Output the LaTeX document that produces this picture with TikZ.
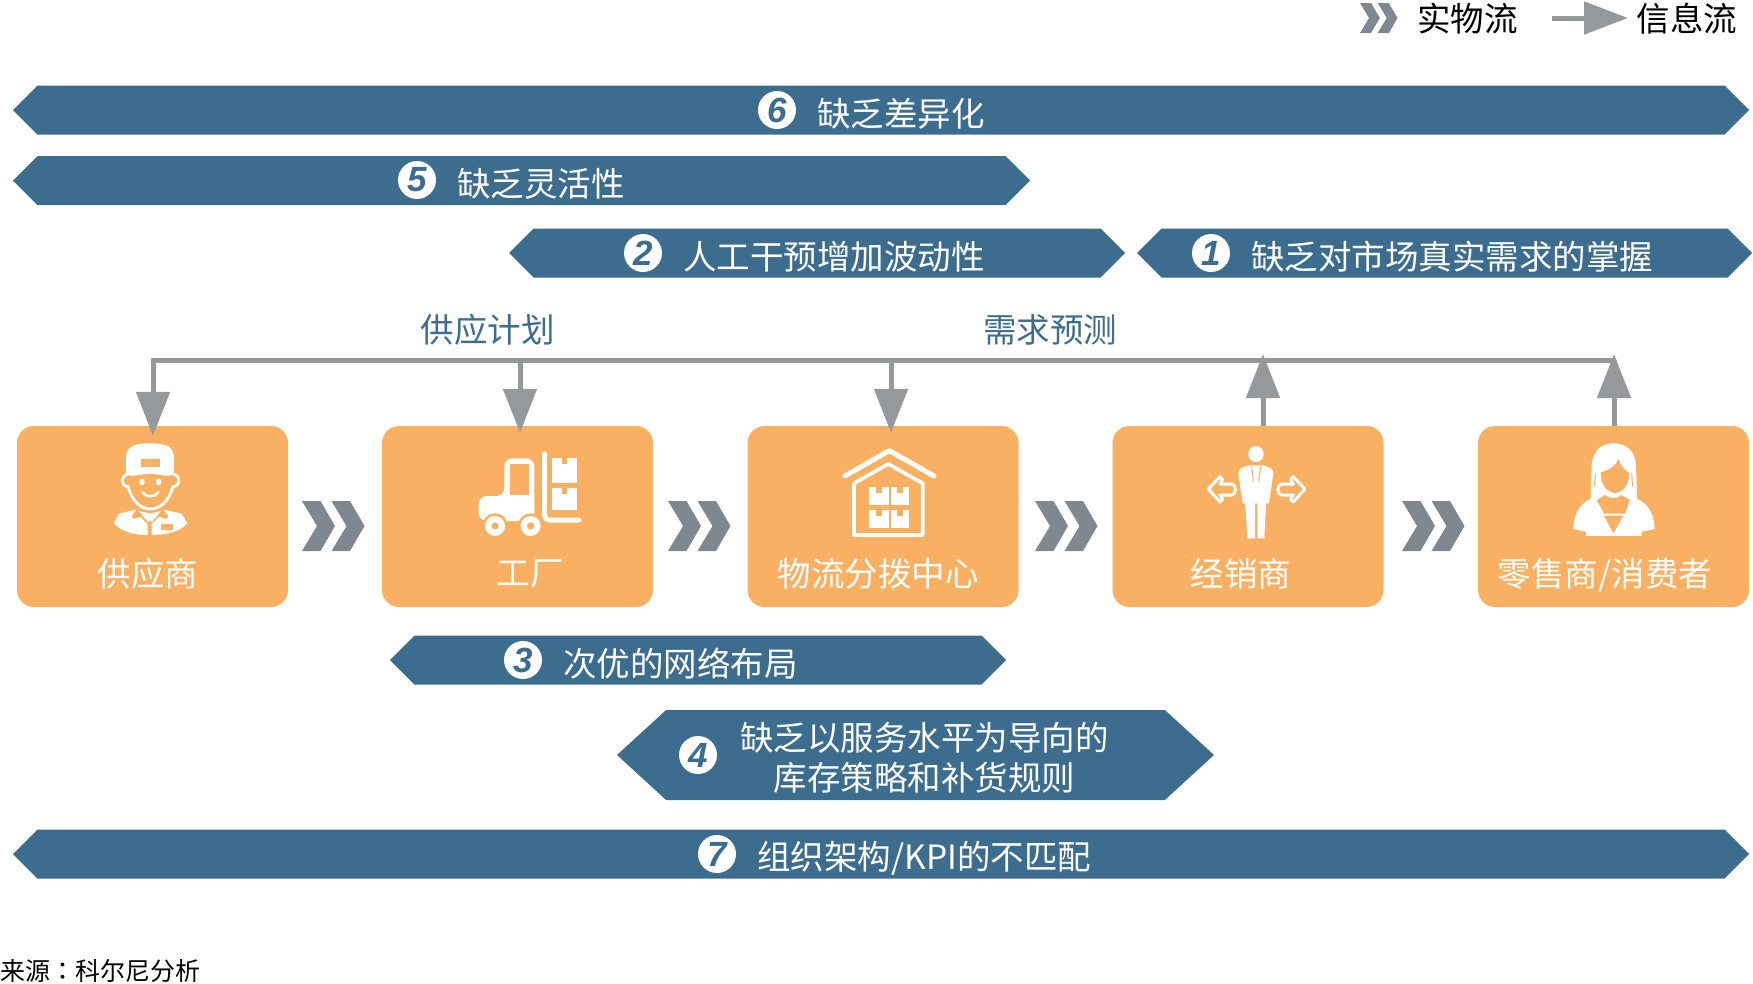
\documentclass[tikz,border=0pt]{standalone}
\usepackage{fontspec}
\setmainfont{Noto Sans CJK SC}
\newfontfamily\numfont{Liberation Sans}
\newfontfamily\colonfont{Noto Sans CJK TC}
\usetikzlibrary{positioning, arrows.meta, shapes.symbols}

\definecolor{bannerblue}{HTML}{3C6C8E}
\definecolor{boxorange}{HTML}{FAB062}
\definecolor{flowgrey}{HTML}{7F8890}
\definecolor{infogrey}{HTML}{96999C}

\tikzset{
    banner/.style={signal, signal to=east and west, signal pointer angle=90, fill=bannerblue, inner sep=0pt, outer sep=0pt},
    bannertext/.style={text=white, font=\fontsize{33.5pt}{40pt}\selectfont, inner sep=0pt, align=center},
    numdot/.style={circle, fill=white, minimum size=38pt, inner sep=0pt, text=bannerblue, font=\fontsize{35pt}{35pt}\numfont\bfseries\itshape},
    stagebox/.style={fill=boxorange, rounded corners=17pt, minimum width=271pt, minimum height=181pt, inner sep=0pt},
    stagetext/.style={text=white, font=\fontsize{33.5pt}{33pt}\selectfont, inner sep=0pt},
    flowtext/.style={text=bannerblue, font=\fontsize{33.5pt}{33pt}\selectfont, inner sep=0pt},
    infoflow/.style={draw=infogrey, line width=5pt, -{Triangle[length=44pt, width=33pt]}},
    icon/.style={fill=white, draw=none},
    iconline/.style={draw=white, line cap=round, line join=round},
    iconcut/.style={fill=boxorange, draw=none},
    chevrons/.pic={
        \fill[flowgrey] (0,0) -- (18.5,0) -- (33,25) -- (18.5,50) -- (0,50) -- (15,25) -- cycle;
        \fill[flowgrey] (29.5,0) -- (48,0) -- (62.5,25) -- (48,50) -- (29.5,50) -- (44.5,25) -- cycle;
    }
}

% carton with a notch, in crop pixels
\newcommand{\carton}[4]{
    \fill[icon] (#1,#2) rectangle (#3,#4);
    \fill[iconcut] ({(#1+#3)/2-8},#2) rectangle ({(#1+#3)/2+8},{#2+18});
}

\begin{document}
\begin{tikzpicture}[x=1pt, y=-1pt]
    \useasboundingbox (0,0) rectangle (1753,983);

    % banners
    \node [banner, minimum width=1736pt, minimum height=49pt] (gap6) at (881,110) {};
    \node [banner, minimum width=1017pt, minimum height=49pt] (gap5) at (521.5,180.5) {};
    \node [banner, minimum width=616pt, minimum height=49pt] (gap2) at (817,253) {};
    \node [banner, minimum width=615pt, minimum height=49pt] (gap1) at (1444.5,253) {};
    \node [banner, minimum width=616pt, minimum height=49pt] (gap3) at (698,660) {};
    \node [banner, signal pointer angle=85, minimum width=597pt, minimum height=90pt] (gap4) at (915.5,755) {};
    \node [banner, minimum width=1736pt, minimum height=49pt] (gap7) at (881,854) {};

    % numbers and texts on the banners
    \node [numdot] (num6) at (777,110) {6};
    \node [bannertext, right=21pt of num6, yshift=-4pt] (text6) {缺乏差异化};
    \node [numdot] (num5) at (417,180) {5};
    \node [bannertext, right=21pt of num5, yshift=-4pt] (text5) {缺乏灵活性};
    \node [numdot] (num2) at (643,253) {2};
    \node [bannertext, right=21pt of num2, yshift=-4pt] (text2) {人工干预增加波动性};
    \node [numdot] (num1) at (1211,253) {1};
    \node [bannertext, right=21pt of num1, yshift=-4pt] (text1) {缺乏对市场真实需求的掌握};
    \node [numdot] (num3) at (523,660) {3};
    \node [bannertext, right=21pt of num3, yshift=-4pt] (text3) {次优的网络布局};
    \node [numdot] (num4) at (698,755) {4};
    \node [bannertext, right=23pt of num4, yshift=-3pt] (text4) {缺乏以服务水平为导向的\\库存策略和补货规则};
    \node [numdot] (num7) at (717,854) {7};
    \node [bannertext, right=21pt of num7, yshift=-4pt] (text7) {组织架构/KPI的不匹配};

    % stages
    \node [stagebox] (supplier) at (152.5,516.5) {};
    \node [stagebox] (factory) at (517.5,516.5) {};
    \node [stagebox] (depot) at (883,516.5) {};
    \node [stagebox] (dealer) at (1248,516.5) {};
    \node [stagebox] (retail) at (1613.5,516.5) {};
    \node [stagetext] (supplierlabel) at (148,574) {供应商};
    \node [stagetext] (factorylabel) at (530,574) {工厂};
    \node [stagetext] (depotlabel) at (878,574) {物流分拨中心};
    \node [stagetext] (dealerlabel) at (1241,574) {经销商};
    \node [stagetext] (retaillabel) at (1605,575) {零售商/消费者};

    % material flow
    \pic at (302,501) {chevrons};
    \pic at (668,501) {chevrons};
    \pic at (1035,501) {chevrons};
    \pic at (1402,501) {chevrons};

    % information flow
    \coordinate (busS) at (153,360);
    \coordinate (busF) at (520,360);
    \coordinate (busD) at (891,360);
    \coordinate (busR) at (1263,360);
    \coordinate (busC) at (1614,360);
    \draw [draw=infogrey, line width=5pt, line cap=round] (busS) -- (busC);
    \draw [infoflow, shorten >=-10pt] (busS) -- (busS |- supplier.north);
    \draw [infoflow, shorten >=-7pt] (busF) -- (busF |- factory.north);
    \draw [infoflow, shorten >=-7pt] (busD) -- (busD |- depot.north);
    \draw [infoflow, shorten >=-6pt] (busR |- dealer.north) -- (busR);
    \draw [infoflow, shorten >=-6pt] (busC |- retail.north) -- (busC);
    \node [flowtext] (planlabel) at (487.5,330) {供应计划};
    \node [flowtext] (forecastlabel) at (1050,330) {需求预测};

    % legend
    \pic [scale=0.6] at (1360,3) {chevrons};
    \node [inner sep=0pt, font=\fontsize{33.5pt}{33pt}\selectfont] (flowkey) at (1467.5,19) {实物流};
    \coordinate (keystart) at (1552,18);
    \coordinate (keyend) at (1628,18);
    \draw [draw=infogrey, line width=5pt, -{Triangle[length=44pt, width=32pt]}] (keystart) -- (keyend);
    \node [inner sep=0pt, font=\fontsize{33.5pt}{33pt}\selectfont] (infokey) at (1687,19) {信息流};

    % source
    \node [inner sep=0pt, anchor=west, font=\fontsize{25pt}{25pt}\selectfont] (source) at (0,971) {来源{\colonfont ：}科尔尼分析};

    % worker
    \begin{scope}[shift={(100,435)}, x=0.3333pt, y=-0.3333pt]
        \fill [icon] (78,118) -- (78,70) .. controls (78,35) and (100,25) .. (150,25) .. controls (200,25) and (222,35) .. (222,70) -- (222,118) .. controls (205,128) and (185,118) .. (150,116) .. controls (115,118) and (95,128) .. (78,118) -- cycle;
        \fill [iconcut] (122,72) rectangle (180,95);
        \draw [iconline, line width=2.8pt] (82,118) .. controls (60,125) and (62,155) .. (85,155) .. controls (95,200) and (125,222) .. (150,222) .. controls (178,222) and (208,200) .. (218,155) .. controls (240,155) and (245,125) .. (222,118);
        \fill [icon] (126,141) ellipse [x radius=8, y radius=10];
        \fill [icon] (176,141) ellipse [x radius=8, y radius=10];
        \draw [iconline, line width=2.6pt] (128,172) .. controls (135,188) and (165,188) .. (175,172);
        \fill [icon] (42,265) -- (56,236) -- (108,224) -- (95,245) -- (100,252) -- (122,246) -- (143,268) -- (143,300) .. controls (100,300) and (65,290) .. (42,265) -- cycle;
        \fill [icon] (155,300) -- (155,268) -- (177,246) -- (200,252) -- (205,245) -- (192,224) -- (245,236) -- (262,265) .. controls (240,290) and (200,300) .. (155,300) -- cycle;
        \fill [iconcut] (182,268) rectangle (220,285);
        \fill [icon] (118,228) -- (150,236) -- (182,228) -- (172,242) -- (155,262) -- (150,256) -- (145,262) -- (128,242) -- cycle;
    \end{scope}

    % forklift
    \begin{scope}[shift={(470,440)}, x=0.3333pt, y=-0.3333pt]
        \fill [icon, rounded corners=8pt] (26,243) -- (26,168) -- (103,168) -- (103,55) -- (193,55) -- (193,243) -- cycle;
        \fill [iconcut] (120,72) rectangle (178,165);
        \fill [iconcut] (75,258) circle (38);
        \fill [iconcut] (182,258) circle (38);
        \fill [iconcut] (20,258) rectangle (230,300);
        \fill [icon] (75,258) circle (30);
        \fill [icon] (182,258) circle (30);
        \fill [iconcut] (75,258) circle (11);
        \fill [iconcut] (182,258) circle (11);
        \draw [iconline, line width=5pt] (224,42) -- (224,222) .. controls (224,235) and (230,240) .. (240,240) -- (327,240);
        \carton{247}{55}{320}{128}
        \carton{247}{143}{320}{210}
    \end{scope}

    % depot
    \begin{scope}[shift={(830,440)}, x=0.3333pt, y=-0.3333pt]
        \draw [iconline, line width=5pt] (45,108) -- (178,32) -- (312,108);
        \draw [iconline, line width=3.7pt] (72,130) -- (175,72) -- (278,130) -- (278,285) -- (72,285) -- cycle;
        \carton{118}{142}{176}{195}
        \carton{182}{142}{238}{195}
        \carton{118}{210}{176}{263}
        \carton{182}{210}{238}{263}
    \end{scope}

    % dealer
    \begin{scope}[shift={(1200,440)}, x=0.3333pt, y=-0.3333pt]
        \fill [icon] (168,42) ellipse [x radius=23, y radius=24];
        \fill [icon] (115,100) .. controls (115,85) and (130,78) .. (153,76) -- (183,76) .. controls (205,78) and (220,85) .. (220,100) -- (207,190) -- (198,190) -- (193,295) -- (172,295) -- (172,190) -- (165,190) -- (165,295) -- (143,295) -- (135,190) -- (128,190) -- cycle;
        \draw [draw=boxorange, line width=1pt] (155,78) -- (160,125);
        \draw [draw=boxorange, line width=1pt] (182,78) -- (176,125);
        \draw [iconline, line width=3pt] (25,147) -- (60,110) -- (68,118) -- (60,132) -- (95,132) .. controls (110,132) and (110,165) .. (95,165) -- (60,165) -- (68,178) -- (60,186) -- cycle;
        \draw [iconline, line width=3pt] (315,147) -- (280,110) -- (272,118) -- (280,132) -- (245,132) .. controls (230,132) and (230,165) .. (245,165) -- (280,165) -- (272,178) -- (280,186) -- cycle;
    \end{scope}

    % customer
    \begin{scope}[shift={(1560,435)}, x=0.3333pt, y=-0.3333pt]
        \fill [icon] (92,195) -- (95,90) .. controls (100,40) and (130,25) .. (160,25) .. controls (200,25) and (228,50) .. (228,95) -- (232,195) -- cycle;
        \fill [icon] (40,282) .. controls (42,230) and (65,195) .. (112,185) -- (210,185) .. controls (260,195) and (282,230) .. (284,282) -- (245,290) -- (245,303) -- (78,303) -- (78,290) -- cycle;
        \fill [iconcut] (122,112) .. controls (150,105) and (170,90) .. (175,72) .. controls (180,90) and (195,105) .. (208,115) .. controls (208,148) and (190,172) .. (165,174) .. controls (140,172) and (122,148) .. (122,112) -- cycle;
        \fill [iconcut] (110,195) -- (135,180) .. controls (145,192) and (175,192) .. (185,180) -- (210,195) -- (195,236) -- (132,236) -- cycle;
        \fill [iconcut] (132,242) -- (190,242) -- (160,295) -- cycle;
        \draw [draw=boxorange, line width=1pt] (107,115) -- (103,155);
        \draw [draw=boxorange, line width=1pt] (215,115) -- (218,155);
    \end{scope}
\end{tikzpicture}
\end{document}
